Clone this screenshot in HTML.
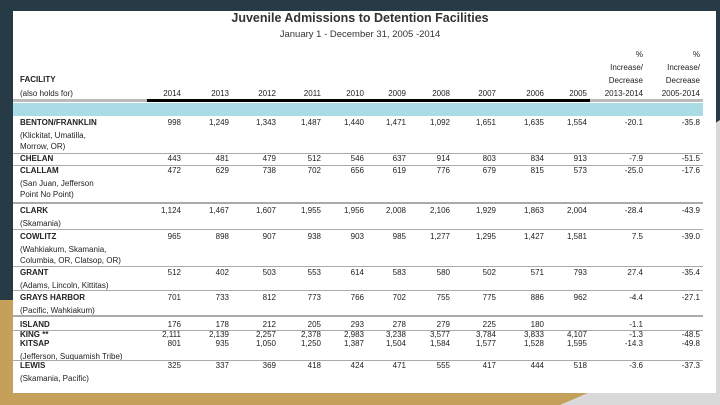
<!DOCTYPE html>
<html><head><meta charset="utf-8"><style>
html,body{margin:0;padding:0}
body{width:720px;height:405px;position:relative;overflow:hidden;background:#273b47;font-family:"Liberation Sans",sans-serif;color:#222}
.abs{position:absolute;white-space:nowrap}
#panel{position:absolute;left:13px;top:11px;width:703px;height:382px;background:#fff}
.t{position:absolute;font-size:8px;line-height:10px;white-space:nowrap}
.r{text-align:right;width:60px}
.b{font-weight:bold}
.ln{position:absolute;height:1px;background:#aaa;left:13px;width:690px}
</style></head><body>
<div class="abs" style="left:0;top:300px;width:14px;height:105px;background:#c4a05a"></div>
<div class="abs" style="left:0;top:392px;width:600px;height:13px;background:#c4a05a"></div>
<svg class="abs" style="left:560px;top:120px" width="160" height="285"><polygon points="160,0 160,285 0,285 30,272 145,272 145,10" fill="#d9d9d9"/></svg>
<div id="panel"></div>
<div class="abs" style="left:0;width:720px;top:11px;text-align:center;font-size:12.5px;font-weight:bold;color:#333">Juvenile Admissions to Detention Facilities</div>
<div class="abs" style="left:0;width:720px;top:29px;text-align:center;font-size:9.5px;color:#333">January 1 - December 31, 2005 -2014</div>
<div class="abs" style="left:13px;top:99px;width:690px;height:3px;background:#bbb"></div>
<div class="abs" style="left:147px;top:99px;width:443px;height:3px;background:#000"></div>
<div class="abs" style="left:13px;top:103px;width:690px;height:13px;background:#a9dce5"></div>
<div id="tbl"></div>
<script>
const years=["2014","2013","2012","2011","2010","2009","2008","2007","2006","2005"];
const facilities=["BENTON/FRANKLIN","CHELAN","CLALLAM","CLARK","COWLITZ","GRANT","GRAYS HARBOR","ISLAND","KING **","KITSAP","LEWIS"];
const subLabels=[["(Klickitat, Umatilla,","Morrow, OR)"],[],["(San Juan, Jefferson","Point No Point)"],["(Skamania)"],["(Wahkiakum, Skamania,","Columbia, OR, Clatsop, OR)"],["(Adams, Lincoln, Kittitas)"],["(Pacific, Wahkiakum)"],[],[],["(Jefferson, Suquamish Tribe)"],["(Skamania, Pacific)"]];
const admissions=[
["998","1,249","1,343","1,487","1,440","1,471","1,092","1,651","1,635","1,554"],
["443","481","479","512","546","637","914","803","834","913"],
["472","629","738","702","656","619","776","679","815","573"],
["1,124","1,467","1,607","1,955","1,956","2,008","2,106","1,929","1,863","2,004"],
["965","898","907","938","903","985","1,277","1,295","1,427","1,581"],
["512","402","503","553","614","583","580","502","571","793"],
["701","733","812","773","766","702","755","775","886","962"],
["176","178","212","205","293","278","279","225","180",""],
["2,111","2,139","2,257","2,378","2,983","3,238","3,577","3,784","3,833","4,107"],
["801","935","1,050","1,250","1,387","1,504","1,584","1,577","1,528","1,595"],
["325","337","369","418","424","471","555","417","444","518"]];
const pct1314=["-20.1","-7.9","-25.0","-28.4","7.5","27.4","-4.4","-1.1","-1.3","-14.3","-3.6"];
const pct0514=["-35.8","-51.5","-17.6","-43.9","-39.0","-35.4","-27.1","","-48.5","-49.8","-37.3"];
const tbl=document.getElementById('tbl');
const colRight=[181,229,276,321,364,406,450,496,544,587];
function txt(s,x,y,cls,right){const d=document.createElement('div');d.className='t '+cls;d.textContent=s;
d.style.top=(y-5)+'px';if(right){d.style.left=(x-60)+'px';}else d.style.left=x+'px';tbl.appendChild(d);return d;}
function line(y,h){const d=document.createElement('div');d.className='ln';d.style.top=y+'px';d.style.height=h+'px';


tbl.appendChild(d);}
let h=txt('FACILITY',20,80,'b',false);


h=txt('(also holds for)',20,94,'',false);


years.forEach((y,i)=>{const e=txt(y,colRight[i],94,'r',true);

});
[[643,'2013-2014'],[700,'2005-2014']].forEach(([x,r])=>{
['%','Increase/','Decrease',r].forEach((s,k)=>{const e=txt(s,x,55+k*13,'r',true);

});});
const rowY=[123,159,171,211,237,273,298,325,335,344,366];
facilities.forEach((f,i)=>{const y=rowY[i];
const n=txt(f,20,y,'b',false);


subLabels[i].forEach((s,k)=>{const e=txt(s,20,y+13+k*11,'',false);

});
admissions[i].forEach((v,j)=>{const e=txt(v,colRight[j],y,'r',true);

});
let e=txt(pct1314[i],643,y,'r',true);


e=txt(pct0514[i],700,y,'r',true);


});
[[153,1],[165,1],[202,2],[229,1],[266,1],[290,1],[315,2],[330,1],[360,1]].forEach(([y,hh])=>line(y,hh));
</script>
</body></html>
